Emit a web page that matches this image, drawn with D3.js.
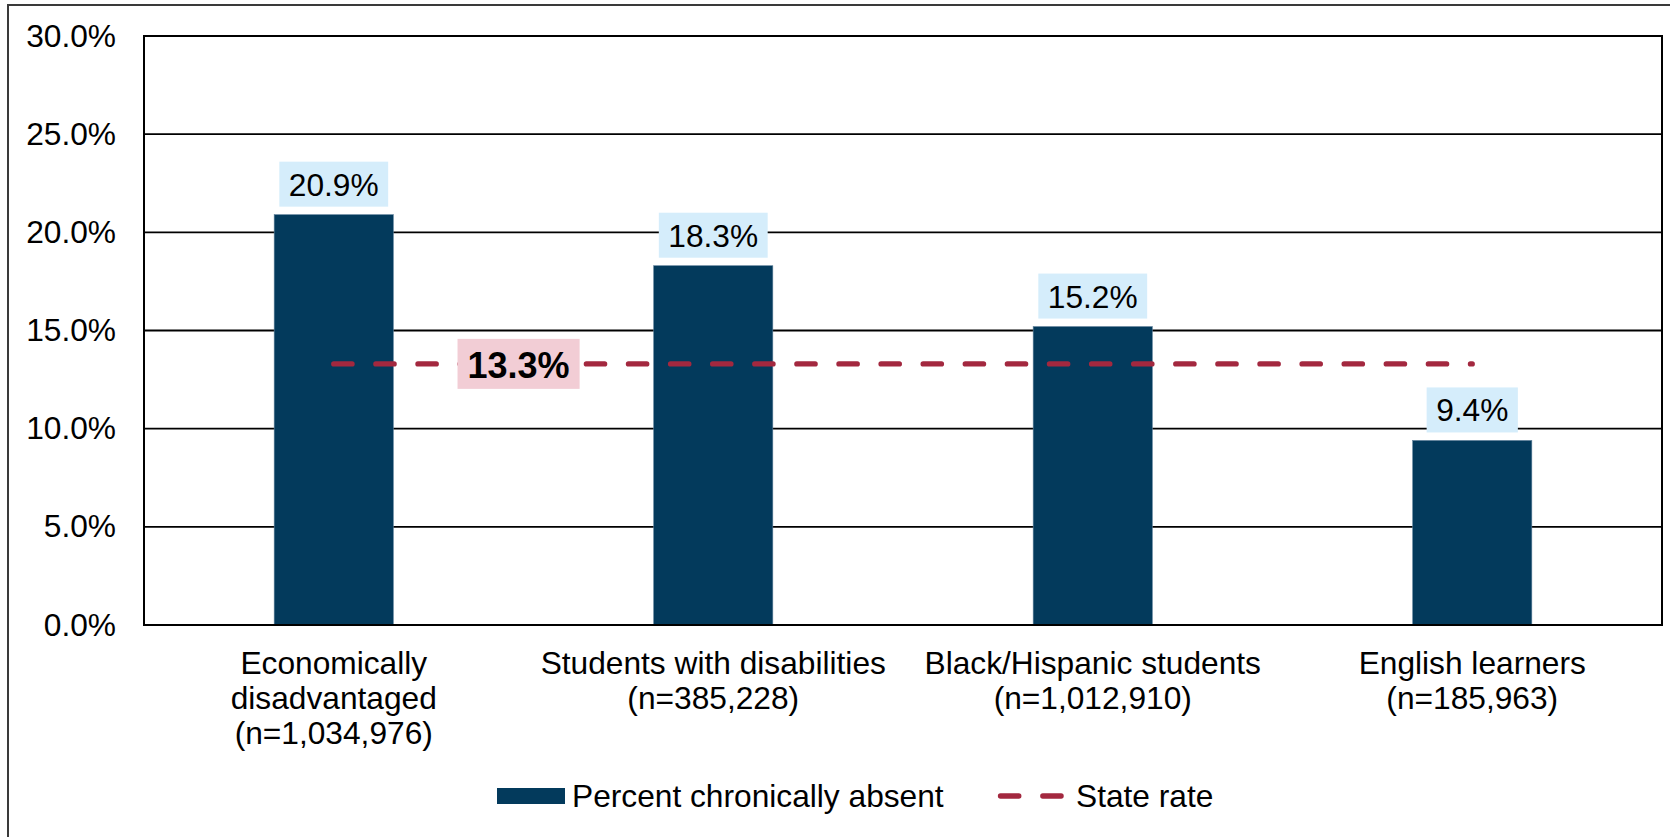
<!DOCTYPE html>
<html>
<head>
<meta charset="utf-8">
<script src="https://cdn.jsdelivr.net/npm/d3@7"></script>
<style>
  html, body { margin: 0; padding: 0; background: #fff; }
  svg { display: block; }
  text { font-family: "Liberation Sans", Arial, sans-serif; fill: #000; }
</style>
</head>
<body>
<script>
// ---- data ----
const categories = ["Economically disadvantaged", "Students with disabilities", "Black/Hispanic students", "English learners"];
const categoryLabelLines = [
  ["Economically", "disadvantaged", "(n=1,034,976)"],
  ["Students with disabilities", "(n=385,228)"],
  ["Black/Hispanic students", "(n=1,012,910)"],
  ["English learners", "(n=185,963)"]
];
const percentChronicallyAbsent = [20.9, 18.3, 15.2, 9.4];
const stateRate = [13.3, 13.3, 13.3, 13.3];
const stateRateLabel = "13.3%";
const yTicks = [0, 5, 10, 15, 20, 25, 30];
const legendLabels = ["Percent chronically absent", "State rate"];

// ---- layout ----
const W = 1670, H = 837;
const plot = { left: 144, right: 1662, top: 36, bottom: 625 };
const barColor = "#033a5c";
const lineColor = "#a3283f";
const FS = 31.7;

const svg = d3.select("body").append("svg").attr("width", W).attr("height", H);

// outer frame
svg.append("rect").attr("x", 8).attr("y", 5).attr("width", W).attr("height", H)
  .attr("fill", "none").attr("stroke", "#3a3a3a").attr("stroke-width", 2);

const x = d3.scaleBand().domain(categories).range([plot.left, plot.right])
  .paddingInner(0.686).paddingOuter(0.343);
const y = d3.scaleLinear().domain([0, 30]).range([plot.bottom, plot.top]);

// gridlines
svg.append("g").selectAll("line").data(yTicks.filter(t => t > 0 && t < 30)).join("line")
  .attr("x1", plot.left).attr("x2", plot.right)
  .attr("y1", d => y(d)).attr("y2", d => y(d))
  .attr("stroke", "#000").attr("stroke-width", 1.8);

// y axis labels
const yAxis = d3.axisLeft(y).tickValues(yTicks).tickFormat(d => d3.format(".1f")(d) + "%").tickSize(0).tickPadding(0);
const yg = svg.append("g").attr("transform", `translate(116,0)`).call(yAxis);
yg.select(".domain").remove();
yg.selectAll("text").attr("font-size", FS).attr("font-family", "Liberation Sans, Arial, sans-serif").attr("fill", "#000");

// bars
svg.append("g").selectAll("rect").data(percentChronicallyAbsent).join("rect")
  .attr("x", (d, i) => x(categories[i]))
  .attr("width", x.bandwidth())
  .attr("y", d => y(d))
  .attr("height", d => y(0) - y(d))
  .attr("fill", barColor)
  .attr("stroke", "#5d7f99").attr("stroke-width", 0.6);

// plot border
svg.append("rect").attr("x", plot.left).attr("y", plot.top)
  .attr("width", plot.right - plot.left).attr("height", plot.bottom - plot.top)
  .attr("fill", "none").attr("stroke", "#000").attr("stroke-width", 2);

// bar value labels
const fmt = d => d3.format(".1f")(d) + "%";
percentChronicallyAbsent.forEach((v, i) => {
  const cx = x(categories[i]) + x.bandwidth() / 2;
  const g = svg.append("g");
  const r = g.append("rect");
  const t = g.append("text").attr("x", cx).attr("y", y(v) - 19)
    .attr("text-anchor", "middle").attr("font-size", FS).text(fmt(v));
  const w = t.node().getComputedTextLength();
  r.attr("x", cx - w / 2 - 9.5).attr("y", y(v) - 53)
    .attr("width", w + 19).attr("height", 45).attr("fill", "#d5edfb");
});

// state rate line
const line = d3.line().x((d, i) => x(categories[i]) + x.bandwidth() / 2).y(d => y(d));
svg.append("path").datum(stateRate).attr("d", line)
  .attr("fill", "none").attr("stroke", lineColor).attr("stroke-width", 5.3)
  .attr("stroke-linecap", "round").attr("stroke-dasharray", "18.3,23.8");

// state rate label
{
  const cx = x(categories[0]) + x.bandwidth() / 2 + x.step() * 0.487;
  const cy = y(stateRate[0]);
  const g = svg.append("g");
  const r = g.append("rect");
  const t = g.append("text").attr("x", cx).attr("y", cy + 14)
    .attr("text-anchor", "middle").attr("font-size", 36).attr("font-weight", "bold").text(stateRateLabel);
  const w = t.node().getComputedTextLength();
  r.attr("x", cx - w / 2 - 10).attr("y", cy - 25)
    .attr("width", w + 20).attr("height", 50).attr("fill", "#f2cdd5");
}

// x labels
const xg = svg.append("g");
categoryLabelLines.forEach((lines, i) => {
  const cx = x(categories[i]) + x.bandwidth() / 2;
  const t = xg.append("text").attr("text-anchor", "middle").attr("font-size", FS);
  lines.forEach((ln, j) => {
    t.append("tspan").attr("x", cx).attr("y", 674 + j * 35.2).text(ln);
  });
});

// legend
const lg = svg.append("g");
lg.append("rect").attr("x", 497).attr("y", 788).attr("width", 68).attr("height", 16).attr("fill", barColor);
lg.append("text").attr("x", 572).attr("y", 807).attr("font-size", FS).text(legendLabels[0]);
lg.append("line").attr("x1", 1000.5).attr("x2", 1062).attr("y1", 796).attr("y2", 796)
  .attr("stroke", lineColor).attr("stroke-width", 5.3).attr("stroke-linecap", "round")
  .attr("stroke-dasharray", "18.3,24");
lg.append("text").attr("x", 1076).attr("y", 807).attr("font-size", FS).text(legendLabels[1]);
</script>
</body>
</html>
